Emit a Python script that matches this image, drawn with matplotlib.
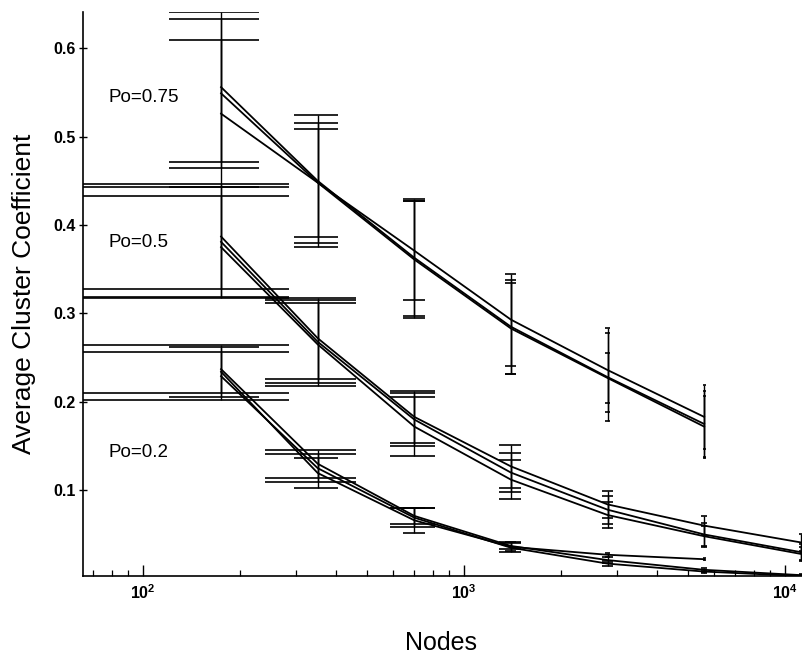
import numpy as np
import matplotlib
matplotlib.use("Agg")
import matplotlib.pyplot as plt

plt.rcParams['font.family'] = ['Liberation Sans', 'DejaVu Sans']
plt.rcParams['mathtext.fontset'] = 'custom'
plt.rcParams['mathtext.rm'] = 'Liberation Sans'
plt.rcParams['mathtext.bf'] = 'Liberation Sans:bold'

# network sizes
nodes = [175, 350, 700, 1400, 2800, 5600, 11200]

# Po = 0.75 (three runs, up to 5600 nodes)
p75_a = [0.556, 0.450, 0.363, 0.285, 0.228, 0.175]
p75_a_err = [0.085, 0.075, 0.066, 0.053, 0.050, 0.037]
p75_b = [0.549, 0.448, 0.361, 0.283, 0.227, 0.172]
p75_b_err = [0.084, 0.068, 0.066, 0.052, 0.028, 0.035]
p75_c = [0.526, 0.448, 0.371, 0.293, 0.236, 0.183]
p75_c_err = [0.083, 0.061, 0.056, 0.052, 0.047, 0.036]

# Po = 0.5
p50_a = [0.387, 0.272, 0.183, 0.127, 0.084, 0.060, 0.041]
p50_a_err = [0.059, 0.046, 0.029, 0.024, 0.015, 0.011, 0.010]
p50_b = [0.381, 0.268, 0.180, 0.120, 0.078, 0.050, 0.030]
p50_b_err = [0.062, 0.047, 0.030, 0.022, 0.016, 0.013, 0.009]
p50_c = [0.375, 0.265, 0.172, 0.112, 0.072, 0.048, 0.028]
p50_c_err = [0.058, 0.047, 0.033, 0.022, 0.015, 0.012, 0.008]

# Po = 0.2 (first run stops at 5600)
p20_a = [0.234, 0.1195, 0.066, 0.036, 0.027, 0.022]
p20_a_err = [0.028, 0.0175, 0.014, 0.005, 0.002, 0.001]
p20_b = [0.237, 0.130, 0.071, 0.037, 0.021, 0.010, 0.004]
p20_b_err = [0.027, 0.016, 0.009, 0.004, 0.003, 0.002, 0.001]
p20_c = [0.229, 0.125, 0.069, 0.035, 0.017, 0.008, 0.003]
p20_c_err = [0.027, 0.016, 0.011, 0.005, 0.003, 0.002, 0.001]

series = [(p75_a, p75_a_err), (p75_b, p75_b_err), (p75_c, p75_c_err),
          (p50_a, p50_a_err), (p50_b, p50_b_err), (p50_c, p50_c_err),
          (p20_a, p20_a_err), (p20_b, p20_b_err), (p20_c, p20_c_err)]

group_labels = ["Po=0.75", "Po=0.5", "Po=0.2"]
label_y = [0.544, 0.38, 0.1425]
label_x = 78

yticks = [0.1, 0.2, 0.3, 0.4, 0.5, 0.6]
ytick_labels = ["0.1", "0.2", "0.3", "0.4", "0.5", "0.6"]
xticks = [1e2, 1e3, 1e4]
xtick_labels = [r"$\mathbf{10^{2}}$", r"$\mathbf{10^{3}}$", r"$\mathbf{10^{4}}$"]

fig = plt.figure(figsize=(8.03, 6.55), dpi=100)
ax = fig.add_axes([83/803, 1 - 576/655, 720/803, 564/655])

for vals, err in series:
    x = np.array(nodes[:len(vals)], dtype=float)
    y = np.array(vals)
    e = np.array(err)
    ax.plot(x, y, color="k", lw=1.3, zorder=3)
    ax.errorbar(x, y, yerr=e, fmt="none", ecolor="k", elinewidth=1.0, capsize=0, zorder=2)
    # matlab-style tees: width set by the x range of the run
    tee = (x.max() - x.min()) / 100
    ax.hlines(np.r_[y + e, y - e], np.r_[x - tee, x - tee], np.r_[x + tee, x + tee],
              colors="k", lw=1.2, zorder=2)

for lab, ly in zip(group_labels, label_y):
    ax.text(label_x, ly, lab, fontsize=13.5, ha="left", va="center")

ax.set_xscale("log")
ax.set_xlim(65, 11380)
ax.set_ylim(0.003, 0.641)

ax.set_yticks(yticks, labels=ytick_labels, fontsize=11.5, fontweight="bold")
ax.set_xticks(xticks, labels=xtick_labels, fontsize=11.5)
ax.tick_params(axis="y", direction="inout", length=6, width=1.0, pad=2)
ax.tick_params(axis="x", which="major", direction="in", length=8, width=1.0, pad=5)
ax.tick_params(axis="x", which="minor", direction="in", length=4, width=0.9)

for s in ["top", "right"]:
    ax.spines[s].set_visible(False)
for s in ["left", "bottom"]:
    ax.spines[s].set_linewidth(1.2)

ax.set_ylabel("Average Cluster Coefficient", fontsize=19, va="center")
ax.yaxis.set_label_coords(-0.082, 0.5)
ax.set_xlabel("Nodes", fontsize=18, va="center")
ax.xaxis.set_label_coords(0.497, -0.119)

fig.savefig("out.png", dpi=100)
